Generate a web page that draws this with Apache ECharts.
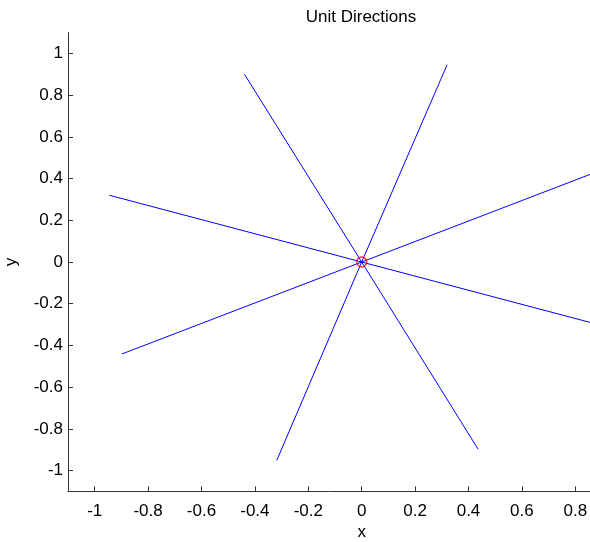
<!DOCTYPE html>
<html>
<head>
<meta charset="utf-8">
<script src="https://cdn.jsdelivr.net/npm/echarts@6/dist/echarts.min.js"></script>
<style>
html, body { margin: 0; padding: 0; background: #fff; }
#main { width: 590px; height: 542px; }
</style>
</head>
<body>
<div id="main"></div>
<script>
// unit direction end points (line from origin to each)
var dirX = [0.320, -0.439, -0.945, -0.898, -0.318, 0.436, 0.898, 0.945];
var dirY = [0.946, 0.900, 0.320, -0.441, -0.951, -0.898, 0.441, -0.320];
var origin = [0, 0];
var xTicks = [-1, -0.8, -0.6, -0.4, -0.2, 0, 0.2, 0.4, 0.6, 0.8, 1];
var yTicks = [-1, -0.8, -0.6, -0.4, -0.2, 0, 0.2, 0.4, 0.6, 0.8, 1];

var myChart = echarts.init(document.getElementById('main'));

var series = [];
for (var i = 0; i < dirX.length; i++) {
    series.push({
        type: 'line',
        symbol: 'none',
        silent: true,
        lineStyle: { color: '#0000ff', width: 1 },
        data: [origin, [dirX[i], dirY[i]]]
    });
}
// origin marker
series.push({
    type: 'scatter',
    symbol: 'circle',
    symbolSize: 10,
    itemStyle: { color: 'rgba(0,0,0,0)', borderColor: '#ff0000', borderWidth: 1.5 },
    data: [origin],
    z: 5
});

var option = {
    animation: false,
    title: {
        text: 'Unit Directions',
        left: 356,
        textAlign: 'center',
        top: 4,
        textStyle: { fontFamily: 'Liberation Sans', fontSize: 17, fontWeight: 'normal', color: '#000' }
    },
    grid: {
        left: 68,
        top: 32.6,
        width: 587.4,
        height: 458.8,
        containLabel: false,
        outerBoundsMode: 'none'
    },
    xAxis: {
        type: 'value',
        min: -1.1,
        max: 1.1,
        interval: 0.1,
        name: 'x',
        nameLocation: 'middle',
        nameGap: 32,
        nameTextStyle: { fontFamily: 'Liberation Sans', fontSize: 17, color: '#000' },
        axisLine: { onZero: false, lineStyle: { color: '#333', width: 1 } },
        axisTick: {
            inside: true, length: 5, lineStyle: { color: '#333' },
            customValues: xTicks
        },
        axisLabel: {
            fontFamily: 'Liberation Sans', fontSize: 17, color: '#000', margin: 11,
            customValues: xTicks,
            formatter: function (v) { return String(Math.round(v * 10) / 10); }
        },
        splitLine: { show: false }
    },
    yAxis: {
        type: 'value',
        min: -1.1,
        max: 1.1,
        interval: 0.1,
        name: 'y',
        nameLocation: 'middle',
        nameGap: 48,
        nameTextStyle: { fontFamily: 'Liberation Sans', fontSize: 17, color: '#000' },
        axisLine: { show: true, onZero: false, lineStyle: { color: '#333', width: 1 } },
        axisTick: {
            show: true, inside: true, length: 5, lineStyle: { color: '#333' },
            customValues: yTicks
        },
        axisLabel: {
            fontFamily: 'Liberation Sans', fontSize: 17, color: '#000', margin: 5,
            customValues: yTicks,
            formatter: function (v) { return String(Math.round(v * 10) / 10); }
        },
        splitLine: { show: false }
    },
    series: series
};
myChart.setOption(option);
</script>
</body>
</html>
